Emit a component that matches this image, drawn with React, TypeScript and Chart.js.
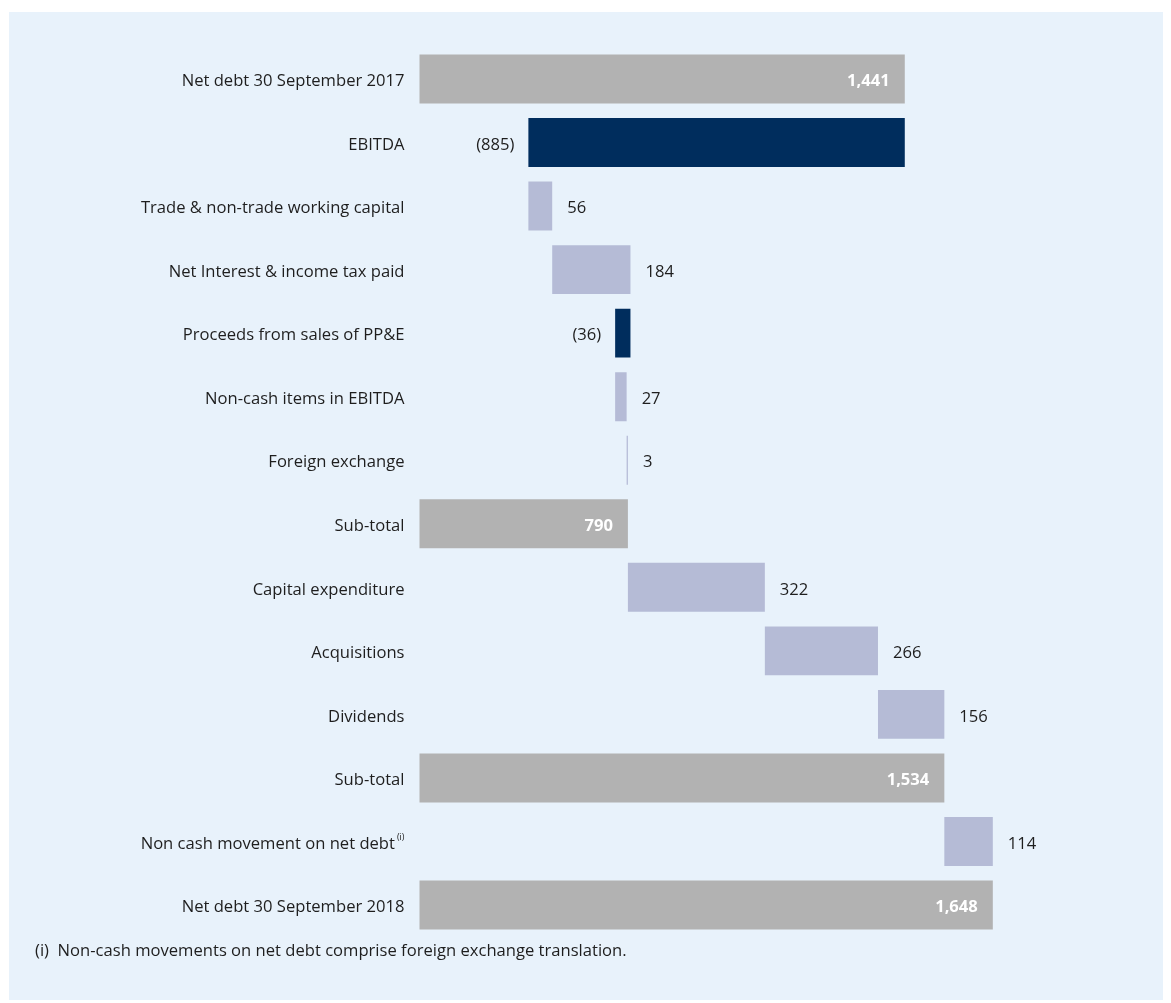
import React, { useEffect, useRef } from "react";
import { Chart, registerables } from "chart.js";

Chart.register(...registerables);

const categories = [
  "Net debt 30 September 2017",
  "EBITDA",
  "Trade & non-trade working capital",
  "Net Interest & income tax paid",
  "Proceeds from sales of PP&E",
  "Non-cash items in EBITDA",
  "Foreign exchange",
  "Sub-total",
  "Capital expenditure",
  "Acquisitions",
  "Dividends",
  "Sub-total",
  "Non cash movement on net debt",
  "Net debt 30 September 2018",
];

// "total" rows show the running balance; other rows are movements
const values = [1441, -885, 56, 184, -36, 27, 3, 790, 322, 266, 156, 1534, 114, 1648];
const kinds = [
  "total", "move", "move", "move", "move", "move", "move",
  "total", "move", "move", "move", "total", "move", "total",
];
const superscripts = ["", "", "", "", "", "", "", "", "", "", "", "", "(i)", ""];
const footnote = "(i)  Non-cash movements on net debt comprise foreign exchange translation.";

const AXIS_MIN = 300;
const AXIS_MAX = 1900;

const COLORS = {
  total: "#b2b2b2",
  decrease: "#002d5d",
  increase: "#b5bbd6",
  panel: "#e8f2fb",
  text: "#1e1e1e",
};
const FONT = "'Open Sans', 'Noto Sans', sans-serif";
const FS = 16.6;
const TEXT_DY = 2.5;

function fmt(v: number): string {
  const s = Math.abs(v).toLocaleString("en-US");
  return v < 0 ? `(${s})` : s;
}

export default function App() {
  const ref = useRef<HTMLCanvasElement | null>(null);

  useEffect(() => {
    if (!ref.current) return;
    let run = 0;
    const ranges: [number, number][] = [];
    const colors: string[] = [];
    values.forEach((v, i) => {
      if (kinds[i] === "total") {
        run = v;
        ranges.push([0, v]);
        colors.push(COLORS.total);
      } else {
        const next = run + v;
        ranges.push([Math.min(run, next), Math.max(run, next)]);
        colors.push(v < 0 ? COLORS.decrease : COLORS.increase);
        run = next;
      }
    });

    const labelPlugin = {
      id: "wfLabels",
      afterDraw(chart: any) {
        const ctx = chart.ctx;
        const area = chart.chartArea;
        const yScale = chart.scales.y;
        const meta = chart.getDatasetMeta(0);
        ctx.save();
        ctx.textBaseline = "middle";
        // category labels
        categories.forEach((c, i) => {
          const y = yScale.getPixelForValue(i) + TEXT_DY;
          const right = area.left - 15;
          ctx.fillStyle = COLORS.text;
          const sup = superscripts[i];
          if (sup) {
            ctx.font = `9px ${FONT}`;
            const w = ctx.measureText(sup).width;
            ctx.textAlign = "right";
            ctx.fillText(sup, right, y - 7);
            ctx.font = `${FS}px ${FONT}`;
            ctx.fillText(c, right - w - 2, y);
          } else {
            ctx.font = `${FS}px ${FONT}`;
            ctx.textAlign = "right";
            ctx.fillText(c, right, y);
          }
        });
        // value labels
        meta.data.forEach((el: any, i: number) => {
          const lo = Math.max(Math.min(el.x, el.base), area.left);
          const hi = Math.max(el.x, el.base);
          const y = el.y + TEXT_DY;
          const v = values[i];
          if (kinds[i] === "total") {
            ctx.font = `bold ${FS}px ${FONT}`;
            ctx.fillStyle = "#ffffff";
            ctx.textAlign = "right";
            ctx.fillText(fmt(v), hi - 15, y);
          } else if (v < 0) {
            ctx.font = `${FS}px ${FONT}`;
            ctx.fillStyle = COLORS.text;
            ctx.textAlign = "right";
            ctx.fillText(fmt(v), lo - 14, y);
          } else {
            ctx.font = `${FS}px ${FONT}`;
            ctx.fillStyle = COLORS.text;
            ctx.textAlign = "left";
            ctx.fillText(fmt(v), hi + 15, y);
          }
        });
        ctx.restore();
      },
    };

    const chart = new Chart(ref.current, {
      type: "bar",
      data: {
        labels: categories,
        datasets: [
          {
            data: ranges as any,
            backgroundColor: colors,
            borderWidth: 0,
            barPercentage: 0.77,
            categoryPercentage: 1,
            clip: 0 as any,
          },
        ],
      },
      options: {
        indexAxis: "y",
        responsive: false,
        animation: false,
        layout: { padding: { left: 410.5, right: 63, top: 35.2, bottom: 63.2 } },
        plugins: { legend: { display: false }, tooltip: { enabled: false } },
        scales: {
          x: { display: false, min: AXIS_MIN, max: AXIS_MAX },
          y: { display: false },
        },
      },
      plugins: [labelPlugin],
    });
    return () => chart.destroy();
  }, []);

  return (
    <div
      style={{
        position: "absolute",
        left: 9,
        top: 12,
        width: 1154,
        height: 988,
        background: COLORS.panel,
      }}
    >
      <canvas ref={ref} width={1154} height={988} style={{ display: "block", width: 1154, height: 988 }} />
      <div
        style={{
          position: "absolute",
          left: 26,
          top: 927,
          font: `${FS}px ${FONT}`,
          lineHeight: "22px",
          color: COLORS.text,
          whiteSpace: "pre",
        }}
      >
        {footnote}
      </div>
    </div>
  );
}
